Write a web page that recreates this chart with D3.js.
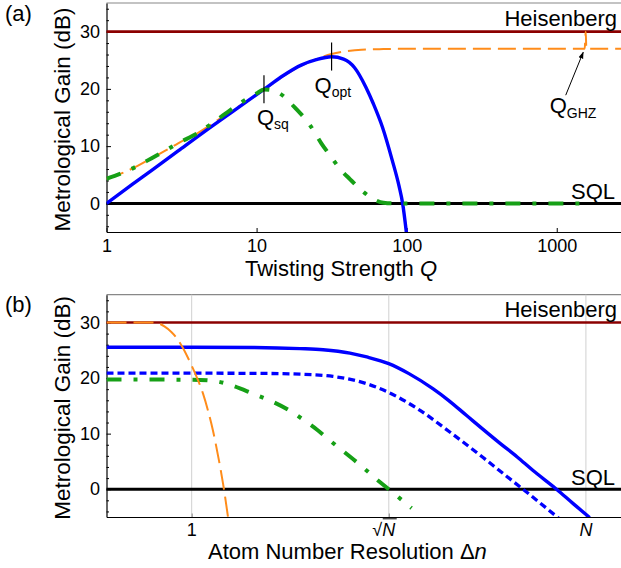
<!DOCTYPE html>
<html>
<head>
<meta charset="utf-8">
<script src="https://cdn.jsdelivr.net/npm/d3@7"></script>
<style>
  body { margin: 0; background: #fff; }
  svg text { font-family: "Liberation Sans", Arial, sans-serif; fill: #000; }
</style>
</head>
<body>
<div id="container"></div>
<script>
// ---- panel (a): gain vs twisting strength Q ----
var blueQ    = [1, 1.5, 2, 3, 5, 7, 10, 12, 15, 20, 25, 31.6, 38, 45, 53.5, 60, 69, 80, 89, 94, 100];
var blueGain = [0, 3.4, 5.75, 9.15, 13.4, 16.1, 19.0, 20.5, 22.3, 24.2, 25.1, 25.6, 25.2, 23.7, 20.3, 17.4, 13.3, 7.6, 3, 0, -5.5];

var orangeQ    = [1, 1.3, 1.6, 2, 2.5, 3, 4, 5, 6, 8, 10, 12, 15, 20, 25, 31.6, 40, 50, 70, 100, 1000, 1535, 1560, 1575, 2680];
var orangeGain = [4.3, 5.4, 6.5, 7.9, 9.3, 10.5, 12.2, 13.8, 15.2, 17.3, 18.9, 20.4, 22.2, 24.1, 25.2, 26.1, 26.6, 26.85, 26.95, 27, 27, 27, 30, 27, 27];

var greenQ    = [1, 1.3, 1.6, 2, 2.5, 3, 4, 5, 6, 8, 10, 11.2, 12.5, 15, 17.9, 22.5, 27, 31.6, 36, 42, 50, 58, 70, 80, 1560];
var greenGain = [4.3, 5.4, 6.5, 7.9, 9.3, 10.5, 12.2, 13.9, 15.4, 17.7, 19.2, 19.9, 19.8, 18.8, 16.8, 13.8, 10.5, 8.0, 6.0, 4.2, 2.3, 1.0, 0.1, 0, 0];

var qTicks = [1, 10, 100, 1000];
var qSq = 11.2, qOpt = 31.6, qGhz = 1560;

// ---- panel (b): gain vs atom number resolution dn (N = 1000) ----
var atomN = 1000;
var orangeDn    = [0.2248, 0.5, 0.55, 0.62, 0.7, 0.77, 0.85, 0.97, 1.1, 1.22, 1.35, 1.45, 1.6, 1.73, 1.89];
var orangeGainB = [30, 30, 29.9, 29.3, 28.3, 27.2, 25.6, 22.9, 20.0, 17.2, 13.6, 10.6, 5.6, 1.1, -5];

var blueDn    = [0.2248, 1, 3, 6.67, 10, 16, 21.5, 31.6, 45, 68.4, 90, 123, 221, 300, 394, 597, 800, 1069];
var blueGainB = [25.55, 25.55, 25.5, 25.3, 25.1, 24.5, 23.8, 22.6, 20.8, 18.1, 16.0, 13.3, 8.3, 5.8, 3.4, 0, -2.6, -5.1];

var blueDashDn   = [0.2248, 3, 6.67, 11.9, 21.4, 31.6, 51.4, 92, 165, 250, 332, 627];
var blueDashGain = [20.9, 20.85, 20.7, 20.3, 19.0, 17.4, 14.6, 10.3, 5.7, 2.3, 0, -5.3];

var greenDn    = [0.2248, 1, 1.45, 2.93, 5.6, 7.27, 9, 11.3, 20.2, 25.5, 31.6, 47.1];
var greenGainB = [19.75, 19.7, 19.5, 17.2, 14.1, 12.3, 10.7, 8.75, 3.9, 1.8, 0, -3.4];

var gainTicks = [0, 10, 20, 30];
var heisenberg = 30, sql = 0;

var totalWidth = 621, totalHeight = 568;
var red = "#8b0000", blue = "#0000ff", orange = "#ff8c1a", green = "#16a016";

var svg = d3.select("#container")
            .append("svg")
            .attr("width", totalWidth)
            .attr("height", totalHeight);

var defs = svg.append("defs");
defs.append("marker").attr("id", "arrow")
    .attr("viewBox", "0 0 10 10").attr("refX", 9).attr("refY", 5)
    .attr("markerWidth", 7).attr("markerHeight", 7).attr("orient", "auto")
    .append("path").attr("d", "M0,1.5 L10,5 L0,8.5 Z").attr("fill", "#000");

function panel(id, top, bottom, xDomain) {
  var left = 106.5, right = 621;
  var x = d3.scaleLog().domain(xDomain).range([left, right]);
  var y = d3.scaleLinear().domain([-5, 35]).range([bottom, top]);
  var g = svg.append("g").attr("class", "panel-" + id);

  defs.append("clipPath").attr("id", "clip-" + id)
      .append("rect").attr("x", left).attr("y", top)
      .attr("width", right - left).attr("height", bottom - top);

  // frame top
  g.append("line").attr("x1", left).attr("x2", right).attr("y1", top).attr("y2", top)
   .attr("stroke", "#888").attr("stroke-width", 1.2);

  // y axis: minor + major ticks pointing inward
  var minor = d3.range(-4, 35, 2).filter(function(d) { return d % 10 !== 0; });
  g.append("g").attr("transform", "translate(" + left + ",0)")
   .call(d3.axisLeft(y).tickValues(minor).tickFormat("").tickSize(-2.5).tickSizeOuter(0))
   .call(function(a) { a.select(".domain").remove(); });
  var yAx = g.append("g").attr("transform", "translate(" + left + ",0)")
   .call(d3.axisLeft(y).tickValues(gainTicks).tickSize(-4.5).tickSizeOuter(0).tickPadding(6.5));
  yAx.selectAll("text").attr("font-size", 18).attr("font-family", null);
  yAx.select(".domain").attr("stroke-width", 1.2);

  g.append("text").attr("transform", "rotate(-90)")
   .attr("x", -(top + bottom) / 2 - 2).attr("y", 70)
   .attr("text-anchor", "middle").attr("font-size", 22.5)
   .text("Metrological Gain (dB)");

  return {id: id, x: x, y: y, g: g, left: left, right: right, top: top, bottom: bottom};
}

function curve(p, xs, ys, color, width, dash) {
  var line = d3.line()
               .x(function(d) { return p.x(d[0]); })
               .y(function(d) { return p.y(d[1]); })
               .curve(d3.curveMonotoneX);
  p.g.append("path").datum(d3.zip(xs, ys))
     .attr("clip-path", "url(#clip-" + p.id + ")")
     .attr("fill", "none").attr("stroke", color).attr("stroke-width", width)
     .attr("stroke-dasharray", dash || null)
     .attr("d", line);
}

function refLines(p) {
  [[heisenberg, red, 2.6, "Heisenberg", -5.5, 617], [sql, "#000", 3, "SQL", -4.5, 615]].forEach(function(r) {
    p.g.append("line").attr("x1", p.left).attr("x2", p.right)
       .attr("y1", p.y(r[0])).attr("y2", p.y(r[0]))
       .attr("stroke", r[1]).attr("stroke-width", r[2]);
    p.g.append("text").attr("x", r[5]).attr("y", p.y(r[0]) + r[4])
       .attr("text-anchor", "end").attr("font-size", 22).text(r[3]);
  });
}

// ===== (a) =====
var a = panel("a", 3, 232, [1, 2680]);
var xAxA = a.g.append("g").attr("transform", "translate(0," + a.bottom + ")")
  .call(d3.axisBottom(a.x).tickValues(qTicks).tickFormat(d3.format("d"))
          .tickSize(-4).tickSizeOuter(0).tickPadding(7));
xAxA.selectAll("text").attr("font-size", 18).attr("font-family", null);
xAxA.select(".domain").attr("stroke-width", 1.2);

refLines(a);
curve(a, orangeQ, orangeGain, orange, 2, "18,7");
curve(a, blueQ, blueGain, blue, 3.4);
curve(a, greenQ, greenGain, green, 4, "15,12,4,12");

a.g.append("text").attr("x", 5).attr("y", 21).attr("font-size", 22).text("(a)");
var tA = a.g.append("text").attr("x", 245).attr("y", 275.5).attr("font-size", 22);
tA.append("tspan").text("Twisting Strength ");
tA.append("tspan").attr("font-style", "italic").text("Q");

// Q_sq, Q_opt markers
[[qSq, 22.4, 17.5, -7, "sq"], [qOpt, 28.1, 23.2, -17, "opt"]].forEach(function(m) {
  var xm = a.x(m[0]);
  a.g.append("line").attr("x1", xm).attr("x2", xm)
     .attr("y1", a.y(m[1])).attr("y2", a.y(m[2]))
     .attr("stroke", "#000").attr("stroke-width", 1.2);
  var t = a.g.append("text").attr("x", xm + m[3]).attr("y", a.y(m[2]) + 22).attr("font-size", 22);
  t.append("tspan").text("Q");
  t.append("tspan").attr("font-size", 14).attr("dy", 4).text(m[4]);
});

// Q_GHZ with arrow
var xg = a.x(qGhz);
a.g.append("line").attr("x1", xg - 20).attr("y1", a.y(18.9))
   .attr("x2", xg - 2.5).attr("y2", a.y(26.4))
   .attr("stroke", "#000").attr("stroke-width", 1).attr("marker-end", "url(#arrow)");
var tG = a.g.append("text").attr("x", xg - 36).attr("y", a.y(15.8)).attr("font-size", 22);
tG.append("tspan").text("Q");
tG.append("tspan").attr("font-size", 14).attr("dy", 5).text("GHZ");

// ===== (b) =====
var b = panel("b", 294.7, 517, [0.2248, 1849]);
var dnTicks = [1, Math.sqrt(atomN), atomN];
b.g.selectAll(".grid").data(dnTicks).enter().append("line").attr("class", "grid")
   .attr("x1", function(d) { return b.x(d); }).attr("x2", function(d) { return b.x(d); })
   .attr("y1", b.top).attr("y2", b.bottom)
   .attr("stroke", "#d0d0d0").attr("stroke-width", 1);
var xAxB = b.g.append("g").attr("transform", "translate(0," + b.bottom + ")")
  .call(d3.axisBottom(b.x).tickValues(dnTicks).tickFormat("").tickSize(-3.5).tickSizeOuter(0));
xAxB.select(".domain").attr("stroke-width", 1.2);
xAxB.selectAll(".tick line").attr("stroke", "#888");

b.g.append("text").attr("x", b.x(1)).attr("y", 536)
  .attr("text-anchor", "middle").attr("font-size", 18).text("1");
var labS = b.g.append("text").attr("x", b.x(Math.sqrt(atomN)) - 5).attr("y", 536)
  .attr("text-anchor", "middle").attr("font-size", 18);
labS.append("tspan").text("\u221A");
labS.append("tspan").attr("font-style", "italic").text("N");
var bbS = labS.node().getBBox();
var nW = labS.node().getSubStringLength(1, 1);
b.g.append("line").attr("x1", bbS.x + bbS.width - nW - 0.5).attr("x2", bbS.x + bbS.width + 0.5)
   .attr("y1", 518.8).attr("y2", 518.8).attr("stroke", "#000").attr("stroke-width", 1);
b.g.append("text").attr("x", b.x(atomN)).attr("y", 536)
  .attr("text-anchor", "middle").attr("font-size", 18).attr("font-style", "italic").text("N");

refLines(b);
curve(b, blueDn, blueGainB, blue, 3.4);
curve(b, blueDashDn, blueDashGain, blue, 3.3, "7,4");
curve(b, greenDn, greenGainB, green, 4, "15,12,4,12");
curve(b, orangeDn, orangeGainB, orange, 2, "20,7");

b.g.append("text").attr("x", 5).attr("y", 312).attr("font-size", 22).text("(b)");
var tB = b.g.append("text").attr("x", 208).attr("y", 559).attr("font-size", 22);
tB.append("tspan").text("Atom Number Resolution \u0394");
tB.append("tspan").attr("font-style", "italic").text("n");
</script>
</body>
</html>
